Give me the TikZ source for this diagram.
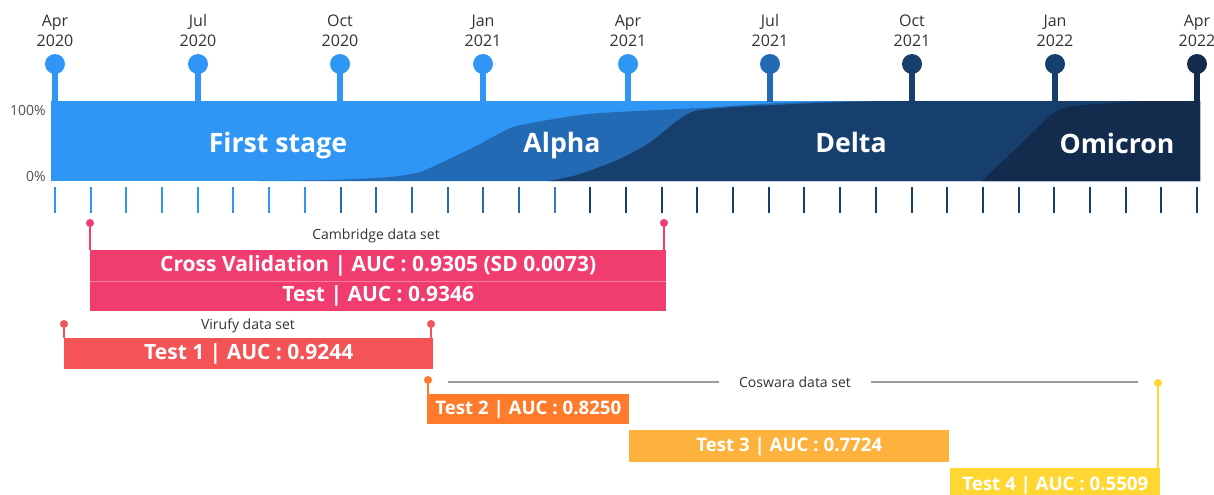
\documentclass[tikz,border=0pt]{standalone}
\usepackage{fontspec}
\setmainfont{Open Sans}
\definecolor{cFirst}{HTML}{3096F5}
\definecolor{cAlpha}{HTML}{236AB5}
\definecolor{cDelta}{HTML}{173F6D}
\definecolor{cOmi}{HTML}{132B4C}
\definecolor{cMid}{HTML}{3A74C6}
\definecolor{cCam}{HTML}{F03C6E}
\definecolor{cVir}{HTML}{F55456}
\definecolor{cTwo}{HTML}{FF7B2C}
\definecolor{cThree}{HTML}{FDB23D}
\definecolor{cFour}{HTML}{FFD733}
\definecolor{cText}{HTML}{333333}
\definecolor{cGrey}{HTML}{9A9A9A}
\begin{document}
\begin{tikzpicture}[x=0.75pt,y=-0.75pt,
  datelab/.style={anchor=base,inner sep=0,text=cText,font=\fontsize{12}{15}\selectfont},
  pctlab/.style={anchor=east,text=cText!85,font=\fontsize{10.5}{12}\selectfont,inner sep=0},
  stagelab/.style={anchor=base,inner sep=0,text=white,font=\fontsize{20}{24}\selectfont\bfseries},
  setlab/.style={text=cText,font=\fontsize{10.5}{12}\selectfont},
  dot/.style={circle,inner sep=0,minimum size=6pt},
  bigbox/.style={anchor=north west,inner sep=0,text=white,font=\fontsize{15.75}{18}\selectfont\bfseries},
  smallbox/.style={anchor=north west,inner sep=0,text=white,font=\fontsize{14}{16}\selectfont\bfseries},
  stem/.style={line width=1.5pt}]
\clip (0,0) rectangle (1214,494);
\fill[white] (0,0) rectangle (1214,494);

% stacked area band
\fill[cFirst] (51,101) rectangle (1200,181);
\fill[cAlpha] plot[smooth,tension=0.4] coordinates {(260,181) (330,180) (390,177) (420,172) (445,161) (480,144) (513,127) (560,118) (600,113) (700,108) (760,104) (820,101.5) (900,101)} -- (1200,101) -- (1200,181) -- cycle;
\fill[cDelta] plot[smooth,tension=0.4] coordinates {(548,181) (577,175) (610,163) (630,154) (652,141) (677,121) (695,111) (735,107) (817,103) (880,101)} -- (1200,101) -- (1200,181) -- cycle;
\fill[cOmi] (982,181) -- (1052,114) .. controls (1060,107) and (1075,105) .. (1100,104) -- (1140,101) -- (1200,101) -- (1200,181) -- cycle;

% pins and date labels
\foreach \px/\pc/\pm/\py/\pn in {55/cFirst/Apr/2020/a, 198/cFirst/Jul/2020/b, 340/cFirst/Oct/2020/c, 483/cFirst/Jan/2021/d, 628/cFirst/Apr/2021/e, 770/cAlpha/Jul/2021/f, 912/cDelta/Oct/2021/g, 1055/cDelta/Jan/2022/h, 1197/cOmi/Apr/2022/i}{
  \draw[\pc,line width=4.5pt] (\px,64) -- (\px,102);
  \fill[\pc] (\px,64) circle (7.5pt);
  \node[datelab] (mon\pn) at (\px,26) {\pm};
  \node[datelab] (yr\pn) at (\px,46) {\py};
}

% stage labels
\node[stagelab] (first) at (278,152.5) {First stage};
\node[stagelab] (alpha) at (562,152.5) {Alpha};
\node[stagelab] (delta) at (851,152) {Delta};
\node[stagelab] (omicron) at (1117,153.5) {Omicron};

% percent labels
\node[pctlab] (p100) at (46,110) {100\%};
\node[pctlab] (p0) at (46,176) {0\%};

% ticks
\foreach \i in {0,...,32}{
  \pgfmathsetmacro{\tx}{55+35.6875*\i}
  \ifnum\i<8 \def\tc{cFirst}\else\ifnum\i<14 \def\tc{cAlpha}\else\ifnum\i<15 \def\tc{cMid}\else\def\tc{cDelta}\fi\fi\fi
  \draw[\tc,line width=1.5pt] (\tx,187) -- (\tx,213);
}

% Cambridge data set
\node[bigbox,fill=cCam,minimum width=432pt,minimum height=23.25pt] (cv) at (90,250) {Cross Validation | AUC : 0.9305 (SD 0.0073)};
\node[bigbox,fill=cCam,minimum width=432pt,minimum height=22.5pt] (ct) at (90,281) {Test | AUC : 0.9346};
\draw[white,opacity=0.35,line width=0.8pt] (cv.south west) -- (cv.south east);
\node[dot,fill=cCam] (camL) at (90,223) {};
\node[dot,fill=cCam] (camR) at (664,223) {};
\draw[cCam,stem] (camL.center) -- (90,250);
\draw[cCam,stem] (camR.center) -- (664,250);
\node[setlab] (camlab) at (376,236) {Cambridge data set};

% Virufy data set
\node[bigbox,fill=cVir,minimum width=276.75pt,minimum height=23.25pt] (v1) at (64,338) {Test 1 | AUC : 0.9244};
\node[dot,fill=cVir] (virL) at (64,324) {};
\node[dot,fill=cVir] (virR) at (431,324) {};
\draw[cVir,stem] (virL.center) -- (64,338);
\draw[cVir,stem] (virR.center) -- (431,338);
\node[setlab] (virlab) at (248,326) {Virufy data set};

% Coswara data set
\node[smallbox,fill=cTwo,minimum width=151.5pt,minimum height=22.5pt] (t2) at (427,394) {Test 2 | AUC : 0.8250};
\node[smallbox,fill=cThree,minimum width=240pt,minimum height=24pt] (t3) at (629,430) {Test 3 | AUC : 0.7724};
\node[smallbox,fill=cFour,minimum width=157.5pt,minimum height=25.5pt] (t4) at (950,468) {Test 4 | AUC : 0.5509};
\node[dot,fill=cTwo] (cosL) at (428,380) {};
\node[dot,fill=cFour] (cosR) at (1158,383) {};
\draw[cTwo,stem] (cosL.center) -- (428,394);
\draw[cFour,stem] (cosR.center) -- (1158,468);
\node[setlab,inner xsep=15pt] (coslab) at (795,382) {Coswara data set};
\coordinate (cosA) at (448,382);
\coordinate (cosB) at (1138,382);
\draw[cGrey,line width=1.1pt] (cosA) -- (coslab.west);
\draw[cGrey,line width=1.1pt] (coslab.east) -- (cosB);
\end{tikzpicture}
\end{document}
